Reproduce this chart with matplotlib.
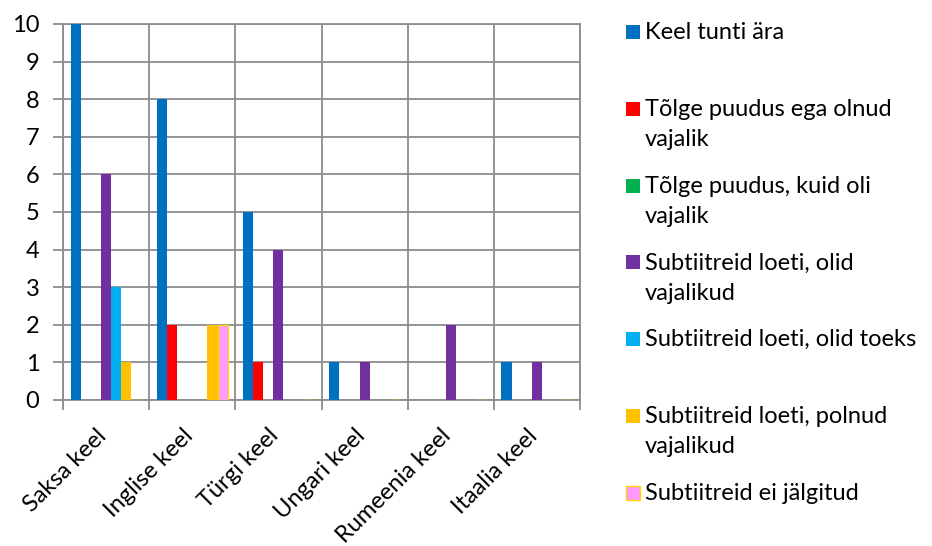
import matplotlib
matplotlib.use('Agg')
import matplotlib.pyplot as plt
from matplotlib.patches import Rectangle
import numpy as np

plt.rcParams['font.family'] = ['Lato', 'DejaVu Sans']

categories = ['Saksa keel', 'Inglise keel', 'Türgi keel', 'Ungari keel', 'Rumeenia keel', 'Itaalia keel']
series_names = ['Keel tunti ära',
                'Tõlge puudus ega olnud\nvajalik',
                'Tõlge puudus, kuid oli\nvajalik',
                'Subtiitreid loeti, olid\nvajalikud',
                'Subtiitreid loeti, olid toeks',
                'Subtiitreid loeti, polnud\nvajalikud',
                'Subtiitreid ei jälgitud']
keel_tunti = [10, 8, 5, 1, 0, 1]
tolge_ega = [0, 2, 1, 0, 0, 0]
tolge_kuid = [0, 0, 0, 0, 0, 0]
sub_vajalikud = [6, 0, 4, 1, 2, 1]
sub_toeks = [3, 0, 0, 0, 0, 0]
sub_polnud = [1, 2, 0, 0, 0, 0]
sub_ei = [0, 2, 0, 0, 0, 0]
series = [keel_tunti, tolge_ega, tolge_kuid, sub_vajalikud, sub_toeks, sub_polnud, sub_ei]
colors = ['#0070C0', '#FF0000', '#00B050', '#7030A0', '#00B0F0', '#FFC000', '#FF99FF']
edges = [None, None, None, None, None, None, '#FFD700']

grid_c = '#8C8C8C'
fs = 17
fig = plt.figure(figsize=(9.32, 5.46), dpi=100)
ax = fig.add_axes([63/932, 1 - 400/546, (580 - 63)/932, (400 - 24)/546])

n = len(series)
w = 1 / (n + 1.5)
x = np.arange(len(categories))
for i, (vals, c, ec) in enumerate(zip(series, colors, edges)):
    pos = x - 0.5 + 0.75 * w + (i + 0.5) * w
    ax.bar(pos, vals, w, color=c, edgecolor=ec if ec else 'none',
           linewidth=1 if ec else 0, zorder=3)

ax.set_xlim(-0.5, len(categories) - 0.5)
ax.set_ylim(0, 10)
ax.set_yticks(range(0, 11))
# labels sit a little left of the group centre, hidden major ticks carry them
ax.set_xticks(x - 0.12)
ax.set_xticklabels(categories, rotation=45, ha='right', va='top',
                   rotation_mode='anchor', fontsize=fs)
ax.set_xticks(np.arange(-0.5, len(categories)), minor=True)
ax.tick_params(axis='x', which='major', length=0, pad=18)
ax.tick_params(axis='x', which='minor', length=7, width=1.3, color=grid_c, direction='out')
ax.tick_params(axis='y', length=7, width=1.3, color=grid_c, direction='out', pad=10, labelsize=fs)
ax.grid(True, which='minor', axis='x', color=grid_c, linewidth=1.3, zorder=0)
ax.grid(True, which='major', axis='y', color=grid_c, linewidth=1.3, zorder=0)
for s in ax.spines.values():
    s.set_color(grid_c)
    s.set_linewidth(1.3)

# legend drawn by hand so the slots stay evenly spaced
slot_top = 32
slot_step = 76.8
for i, (name, c, ec) in enumerate(zip(series_names, colors, edges)):
    yc = slot_top + i * slot_step
    fig.patches.append(Rectangle((626/932, 1 - (yc + 7)/546), 14/932, 14/546,
                                 transform=fig.transFigure, facecolor=c,
                                 edgecolor=ec if ec else 'none', linewidth=1))
    fig.text(645/932, 1 - (yc - 10)/546, name, fontsize=fs, va='top', ha='left',
             linespacing=1.55)

fig.savefig('out.png', dpi=100)
